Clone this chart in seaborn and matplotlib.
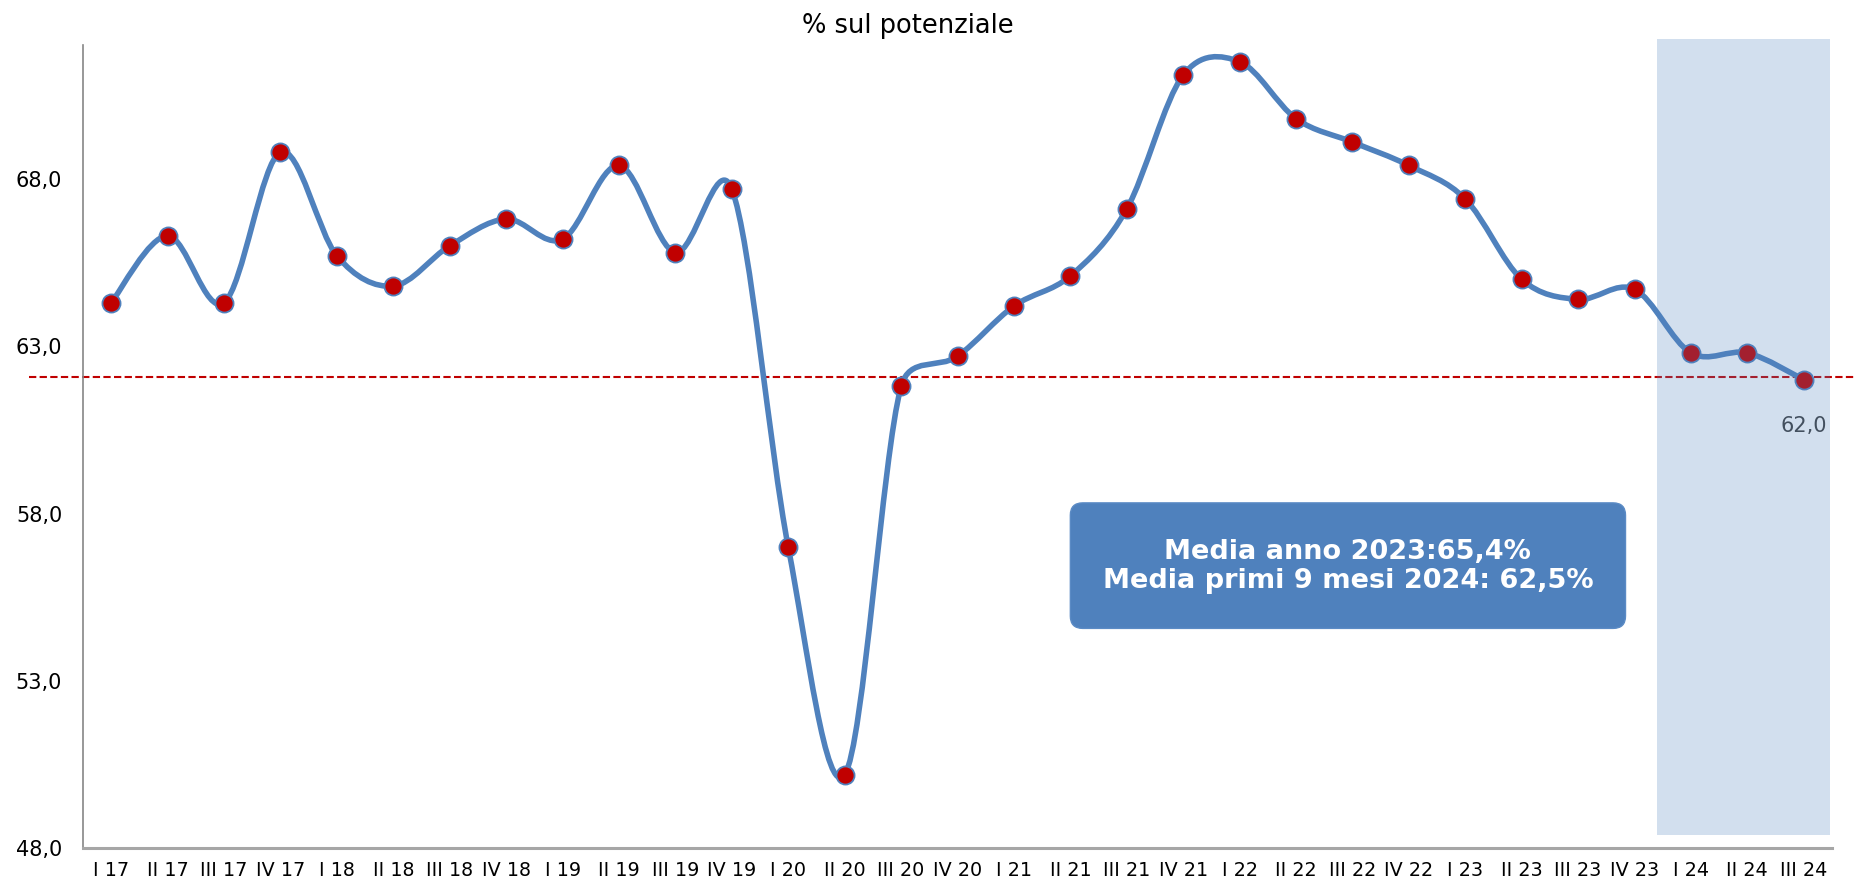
import numpy as np
import pandas as pd
import matplotlib
matplotlib.use('Agg')
import matplotlib.pyplot as plt
from matplotlib.path import Path
from matplotlib.patches import PathPatch, FancyBboxPatch, Rectangle
import seaborn as sns

# quarters I 17 ... III 24
quarters = ['I 17', 'II 17', 'III 17', 'IV 17',
            'I 18', 'II 18', 'III 18', 'IV 18',
            'I 19', 'II 19', 'III 19', 'IV 19',
            'I 20', 'II 20', 'III 20', 'IV 20',
            'I 21', 'II 21', 'III 21', 'IV 21',
            'I 22', 'II 22', 'III 22', 'IV 22',
            'I 23', 'II 23', 'III 23', 'IV 23',
            'I 24', 'II 24', 'III 24']
values = [64.3, 66.3, 64.3, 68.8,
          65.7, 64.8, 66.0, 66.8,
          66.2, 68.4, 65.8, 67.7,
          57.0, 50.2, 61.8, 62.7,
          64.2, 65.1, 67.1, 71.1,
          71.5, 69.8, 69.1, 68.4,
          67.4, 65.0, 64.4, 64.7,
          62.8, 62.8, 62.0]
ref_level = 62.07
yticks = [48, 53, 58, 63, 68]
box_text = 'Media anno 2023:65,4%\nMedia primi 9 mesi 2024: 62,5%'
last_label = '62,0'

blue = '#4F81BD'
red = '#C00000'

df = pd.DataFrame({'q': quarters, 'x': np.arange(len(quarters)), 'v': values})

sns.set_style('white')
plt.rcParams['font.family'] = ['DejaVu Sans']
plt.rcParams['text.color'] = 'black'
plt.rcParams['xtick.labelcolor'] = 'black'
plt.rcParams['ytick.labelcolor'] = 'black'

fig = plt.figure(figsize=(18.54, 8.84), dpi=100)
ax = fig.add_axes([83 / 1854, 1 - 848.3 / 884, (1832 - 83) / 1854, (848.3 - 45) / 884])

# smoothed line, excel style bezier (tangent/6, capped at half the chord),
# computed in pixel units
scale = np.array([56.4, 33.5])
pts = df[['x', 'v']].to_numpy(dtype=float)
ext = np.vstack([pts[0], pts, pts[-1]]) * scale


def ctrl(tangent, chord):
    v = tangent / 6
    n = np.hypot(*v)
    lim = 0.5 * chord
    return v * (lim / n) if n > lim else v


verts = [tuple(pts[0])]
codes = [Path.MOVETO]
for i in range(len(pts) - 1):
    k = i + 1
    chord = np.hypot(*(ext[k + 1] - ext[k]))
    c1 = ext[k] + ctrl(ext[k + 1] - ext[k - 1], chord)
    c2 = ext[k + 1] - ctrl(ext[k + 2] - ext[k], chord)
    verts += [tuple(c1 / scale), tuple(c2 / scale), tuple(ext[k + 1] / scale)]
    codes += [Path.CURVE4] * 3
ax.add_patch(PathPatch(Path(verts, codes), fill=False, edgecolor=blue, lw=4,
                       capstyle='round', joinstyle='round', zorder=3))

sns.scatterplot(data=df, x='x', y='v', ax=ax, s=170, color=red,
                edgecolor=blue, linewidth=1.3, zorder=4, legend=False)

# reference dashed line
ax.plot([-1.45, 30.9], [ref_level, ref_level], color=red, lw=1.5,
        ls=(0, (3.5, 1.6)), clip_on=False, zorder=2)

# shaded 2024 area
ax.add_patch(Rectangle((27.39, 48.4), 3.07, 72.18 - 48.4, facecolor=blue,
                       alpha=0.25, edgecolor='none', clip_on=False, zorder=5))

# text box
ax.add_patch(FancyBboxPatch((17.0, 54.57), 26.84 - 17.0, 58.32 - 54.57,
                            boxstyle='round,pad=0,rounding_size=0.22',
                            mutation_aspect=1.68, facecolor=blue,
                            edgecolor='#5B8BC5', lw=1, zorder=6))
ax.text(21.92, 56.42, box_text, ha='center', va='center', color='white',
        fontsize=19.5, fontweight='bold', linespacing=1.15, zorder=7)

ax.annotate(last_label, (30, values[-1]), xytext=(0, -46), textcoords='offset pixels',
            ha='center', va='center', fontsize=15, color='#404040')

ax.set_xlim(-0.5, len(quarters) - 0.5)
ax.set_ylim(48, 72)
ax.set_yticks(yticks)
ax.set_yticklabels([f'{t:.1f}'.replace('.', ',') for t in yticks], fontsize=15)
ax.set_xticks(np.arange(len(quarters) + 1) - 0.5)
ax.set_xticklabels([])
ax.set_xticks(np.arange(len(quarters)), minor=True)
ax.set_xticklabels(quarters, minor=True, fontsize=13.8)
ax.tick_params(axis='x', which='major', length=5, width=1.2, color='#868686', direction='out')
ax.tick_params(axis='x', which='minor', length=0, pad=9)
ax.tick_params(axis='y', length=5, width=1.2, color='#868686', direction='out', pad=10)
ax.set_xlabel('')
ax.set_ylabel('')
for s in ['top', 'right']:
    ax.spines[s].set_visible(False)
ax.spines['left'].set_color('#868686')
ax.spines['left'].set_linewidth(1.2)
ax.spines['bottom'].set_color('#A6A6A6')
ax.spines['bottom'].set_linewidth(2.2)

fig.text(908 / 1854, 1 - 26 / 884, '% sul potenziale', ha='center', va='center', fontsize=18.5)

fig.savefig('out.png', dpi=100)
